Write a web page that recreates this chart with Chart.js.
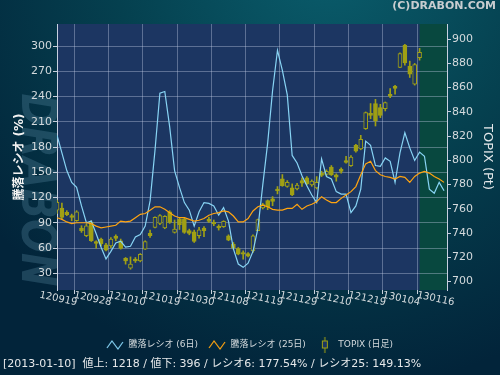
<!DOCTYPE html>
<html>
<head>
<meta charset="utf-8">
<script src="https://cdn.jsdelivr.net/npm/chart.js@4.4.0/dist/chart.umd.min.js"></script>
<style>
  html, body { margin: 0; padding: 0; background: #02243a; }
</style>
</head>
<body>
<canvas id="chart" width="500" height="375"></canvas>
<script>
// x axis: one label every 7 trading days, starting 2012-09-19
const tickLabels = ['120919', '120928', '121010', '121019', '121030', '121108',
    '121119', '121129', '121210', '121219', '130104', '130116'];
const tickEvery = 7;
const ratioTicks = [30, 60, 90, 120, 150, 180, 210, 240, 270, 300];
const topixTicks = [700, 720, 740, 760, 780, 800, 820, 840, 860, 880, 900];

// 騰落レシオ (6日) / (25日), %
const ratio6 = [194, 173, 152, 138, 132, 110, 90, 92, 77, 61,
    47, 56, 66, 68, 61, 62, 73, 76, 86, 116,
    176, 244, 246, 204, 152, 132, 114, 105, 86, 103,
    114, 113, 110, 99, 108, 92, 59, 41, 37, 42,
    56, 83, 135, 185, 247, 295, 271, 242, 170, 161,
    146, 134, 123, 114, 166, 145, 142, 127, 124, 124,
    102, 110, 130, 187, 182, 158, 157, 167, 163, 138,
    173, 197, 179, 164, 174, 169, 130, 125, 138, 128];
const ratio25 = [96, 94, 91, 89, 90, 90, 90, 89, 86, 84,
    85, 86, 87, 92, 91, 92, 96, 100, 101, 105,
    109, 109, 106, 102, 98, 96, 96, 94, 92, 93,
    95, 99, 101, 102, 104, 103, 98, 91, 91, 95,
    104, 109, 111, 109, 106, 105, 105, 107, 107, 112,
    106, 110, 112, 115, 121, 117, 114, 114, 119, 123,
    127, 133, 147, 160, 163, 152, 147, 145, 144, 142,
    145, 144, 138, 145, 149, 151, 149, 145, 142, 138];

// TOPIX daily candles (Pt)
const topixOpen = [759, 760.7, 757.1, 754.4, 750.2, 744.2, 737.8, 748.9, 733.1, 735.1,
    730.4, 729.5, 737.5, 733.7, 719.3, 711.1, 718.5, 717.1, 726.8, 739.8,
    744.7, 748, 744.2, 757.6, 740.6, 751.6, 751.6, 742, 741.1, 737.8,
    744.2, 751.6, 748.9, 745.5, 745.3, 737.8, 730.9, 727.3, 724, 723.2,
    725.4, 742, 760.7, 766.8, 768.2, 776.4, 784.7, 778.4, 777.3, 776.4,
    783.3, 785.5, 779.7, 777.3, 789.4, 788.3, 794.4, 788, 792.7, 799.9,
    795.7, 812.3, 809.5, 826.1, 838.8, 846.8, 843.5, 842.6, 854.5, 861.1,
    876.6, 895, 877.7, 862.8, 884.6];
const topixHigh = [767.3, 764.8, 758.5, 755.7, 758.5, 746.1, 747.5, 750.2, 733.7, 735.9,
    731.5, 736.4, 738.6, 735.1, 719.9, 720.4, 719.9, 723.2, 733.7, 742.5,
    753.5, 755.2, 754.4, 758.5, 750.8, 753, 753, 743.3, 742.5, 744.7,
    745.3, 753, 750.8, 746.9, 750.2, 738.6, 732.3, 728.1, 725.4, 724,
    738.6, 751.6, 764.6, 767.3, 770.1, 778.4, 788.3, 783.3, 780.6, 781.1,
    785.5, 786.6, 783.9, 786.6, 791, 792.2, 795.7, 788.9, 793.8, 803.2,
    804, 813.1, 820.6, 839.9, 846.8, 850.3, 846.2, 848.1, 859.2, 861.9,
    888.7, 895.6, 881.8, 879.9, 892.3];
const topixLow = [756.3, 751.6, 754.4, 750.2, 749.7, 740.6, 737, 733.1, 727.6, 729.5,
    725.4, 728.1, 733.7, 726.8, 714.4, 710.2, 715.8, 716.3, 726.5, 736.4,
    744.2, 746.9, 743.6, 748, 740, 743, 739.8, 738.6, 732.3, 735.9,
    737, 748.9, 746.1, 742.5, 744.7, 733.7, 726.8, 722.1, 718.5, 720.4,
    724, 742, 759.9, 759.3, 762.6, 772.3, 778.6, 777.8, 770.9, 775.6,
    778.4, 779.7, 778.6, 776.4, 786.6, 787.5, 787.5, 782.8, 789.4, 797.7,
    794.9, 806.8, 808.7, 825.5, 834.3, 828.3, 835.2, 840.7, 851.7, 854.5,
    876.3, 878.5, 868.3, 862, 882.6];
const topixClose = [765.4, 753, 755.2, 753, 757.6, 742, 746.1, 733.7, 731.5, 731,
    725.9, 735, 735.6, 727.3, 717.1, 714.4, 717.1, 722.6, 733.1, 737.8,
    753, 754.4, 753.8, 748.9, 743.3, 746.9, 740.6, 739.8, 733.1, 742.8,
    742, 749.7, 747.5, 744.2, 749.7, 734.2, 727.6, 722.6, 722.6, 721,
    737.8, 751.1, 763.5, 761.3, 766.2, 775, 779.2, 781.9, 771.5, 779.7,
    781.1, 780.6, 782.8, 781.9, 787.5, 791, 788, 786.1, 790.8, 798.2,
    802.6, 807.6, 817.3, 839.3, 837.1, 832.4, 837.1, 847.6, 852.8, 859.2,
    888.1, 880.4, 871, 879, 889];

const latestIndex = 74; // 2013-01-10
const legendNames = ['騰落レシオ (6日)', '騰落レシオ (25日)', 'TOPIX (日足)'];
const footerText = '[2013-01-10]  値上: 1218 / 値下: 396 / レシオ6: 177.54% / レシオ25: 149.13%';

const fontFamily = '"DejaVu Sans", "Noto Sans CJK JP", sans-serif';
const plotBg = '#1c3662';
const candleColor = '#a0a014';
const gridColor = 'rgba(190, 200, 225, 0.4)';
const labelColor = '#d4dadd';

const zigzag = (color) => {
    const c = document.createElement('canvas');
    c.width = 18; c.height = 11;
    const g = c.getContext('2d');
    g.strokeStyle = color;
    g.lineWidth = 1.2;
    g.beginPath();
    g.moveTo(1, 9); g.lineTo(6, 2); g.lineTo(12, 10); g.lineTo(17, 3);
    g.stroke();
    return c;
}

const candleIcon = () => {
    const c = document.createElement('canvas');
    c.width = 8; c.height = 16;
    const g = c.getContext('2d');
    g.strokeStyle = candleColor;
    g.lineWidth = 1;
    g.beginPath();
    g.moveTo(4, 0); g.lineTo(4, 16);
    g.stroke();
    g.fillStyle = plotBg;
    g.fillRect(1, 4, 6, 8);
    g.strokeRect(1.5, 4.5, 5, 7);
    return c;
}

const legendIcons = [zigzag('#84d0f2'), zigzag('#ffa410'), candleIcon()];

const backdrop = {
    id: 'backdrop',
    beforeDraw(chart) {
        const { ctx, chartArea: a, scales: { x } } = chart;
        ctx.save();
        const g = ctx.createRadialGradient(330, -40, 0, 330, -40, 430);
        g.addColorStop(0, '#0a5d6c');
        g.addColorStop(0.5, '#05404f');
        g.addColorStop(1, '#02243a');
        ctx.fillStyle = g;
        ctx.fillRect(0, 0, chart.width, chart.height);

        // watermark
        ctx.save();
        ctx.translate(35, 190);
        ctx.rotate(Math.PI / 2);
        ctx.scale(0.8, 1);
        ctx.font = 'italic bold 50px "DejaVu Sans"';
        ctx.fillStyle = 'rgba(100, 150, 175, 0.28)';
        ctx.textAlign = 'center';
        ctx.textBaseline = 'middle';
        ctx.fillText('DRABON', 0, 0);
        ctx.restore();

        ctx.fillStyle = plotBg;
        ctx.fillRect(a.left, a.top, a.width, a.height);
        const xs = x.getPixelForValue(latestIndex);
        ctx.fillStyle = '#08483f';
        ctx.fillRect(xs, a.top, a.right - xs, a.height);
        ctx.restore();
    }
};

const points = (arr) => arr.map((v, i) => ({ x: i, y: v }));

new Chart(document.getElementById('chart'), {
    type: 'line',
    data: {
        datasets: [
            {
                label: legendNames[1],
                data: points(ratio25),
                yAxisID: 'y',
                borderColor: '#ffa410',
                borderWidth: 1.2,
                pointRadius: 0,
                order: 0
            },
            {
                label: legendNames[0],
                data: points(ratio6),
                yAxisID: 'y',
                borderColor: '#88d4f4',
                borderWidth: 1.2,
                pointRadius: 0,
                order: 1
            },
            {
                type: 'bar',
                label: legendNames[2],
                data: topixOpen.map((o, i) => ({ x: i, y: [o, topixClose[i]] })),
                yAxisID: 'y2',
                backgroundColor: topixOpen.map((o, i) => topixClose[i] < o ? candleColor : plotBg),
                borderColor: candleColor,
                borderWidth: 1,
                borderSkipped: false,
                barThickness: 4,
                grouped: false,
                order: 2
            },
            {
                type: 'bar',
                label: 'wick',
                data: topixLow.map((l, i) => ({ x: i, y: [l, topixHigh[i]] })),
                yAxisID: 'y2',
                backgroundColor: candleColor,
                barThickness: 1,
                grouped: false,
                order: 3
            }
        ]
    },
    options: {
        responsive: false,
        animation: false,
        devicePixelRatio: 1,
        layout: { padding: { left: 3, right: 4, top: 0, bottom: 0 } },
        scales: {
            x: {
                type: 'linear',
                min: 0,
                max: 79.6,
                offset: false,
                afterBuildTicks: s => { s.ticks = tickLabels.map((t, k) => ({ value: k * tickEvery })); },
                afterFit: s => { s.height = 40; },
                grid: { color: gridColor, tickColor: '#c8d0dc', tickLength: 4 },
                border: { display: false },
                ticks: {
                    autoSkip: false,
                    minRotation: -12,
                    maxRotation: -12,
                    labelOffset: 20,
                    padding: 3,
                    color: labelColor,
                    font: { size: 10, family: fontFamily },
                    callback: (v, k) => tickLabels[k]
                }
            },
            y: {
                position: 'left',
                min: 10.1,
                max: 326.2,
                afterBuildTicks: s => { s.ticks = ratioTicks.map(v => ({ value: v })); },
                afterFit: s => { s.width = 54; },
                grid: { color: gridColor, tickColor: '#c8d0dc', tickLength: 4 },
                border: { color: '#c8d0e0' },
                ticks: { color: labelColor, padding: 1, font: { size: 11, family: fontFamily } },
                title: {
                    display: true,
                    text: '騰落レシオ (%)',
                    color: '#f2f2f2',
                    font: { size: 12, weight: 'bold', family: fontFamily },
                    padding: { top: 10, bottom: 0 }
                }
            },
            y2: {
                position: 'right',
                min: 693.1,
                max: 912.4,
                afterBuildTicks: s => { s.ticks = topixTicks.map(v => ({ value: v })); },
                afterFit: s => { s.width = 49; },
                grid: { drawOnChartArea: false, tickColor: '#c8d0dc', tickLength: 4 },
                border: { color: '#c8d0e0' },
                ticks: { color: labelColor, padding: 1, font: { size: 11, family: fontFamily } },
                title: {
                    display: true,
                    text: 'TOPIX (Pt)',
                    color: '#e4e8ea',
                    font: { size: 13, family: fontFamily },
                    padding: { top: 1, bottom: 0 }
                }
            }
        },
        plugins: {
            tooltip: { enabled: false },
            title: {
                display: true,
                text: '(C)DRABON.COM',
                align: 'end',
                color: '#c8cdd0',
                font: { size: 11, weight: 'bold', family: fontFamily },
                padding: { top: 0, bottom: 10.8 }
            },
            subtitle: {
                display: true,
                text: footerText,
                position: 'bottom',
                align: 'start',
                color: '#e6e8ea',
                font: { size: 11, family: fontFamily, lineHeight: 1 },
                padding: { top: 0, bottom: 5 }
            },
            legend: {
                position: 'bottom',
                labels: {
                    usePointStyle: true,
                    pointStyleWidth: 18,
                    padding: 10,
                    color: labelColor,
                    font: { size: 9, family: fontFamily },
                    generateLabels: () => legendNames.map((t, k) => ({
                        text: t,
                        pointStyle: legendIcons[k],
                        fontColor: labelColor,
                        hidden: false,
                        lineWidth: 0,
                        strokeStyle: 'transparent',
                        fillStyle: 'transparent',
                        datasetIndex: k
                    }))
                }
            }
        }
    },
    plugins: [backdrop]
});
</script>
</body>
</html>
